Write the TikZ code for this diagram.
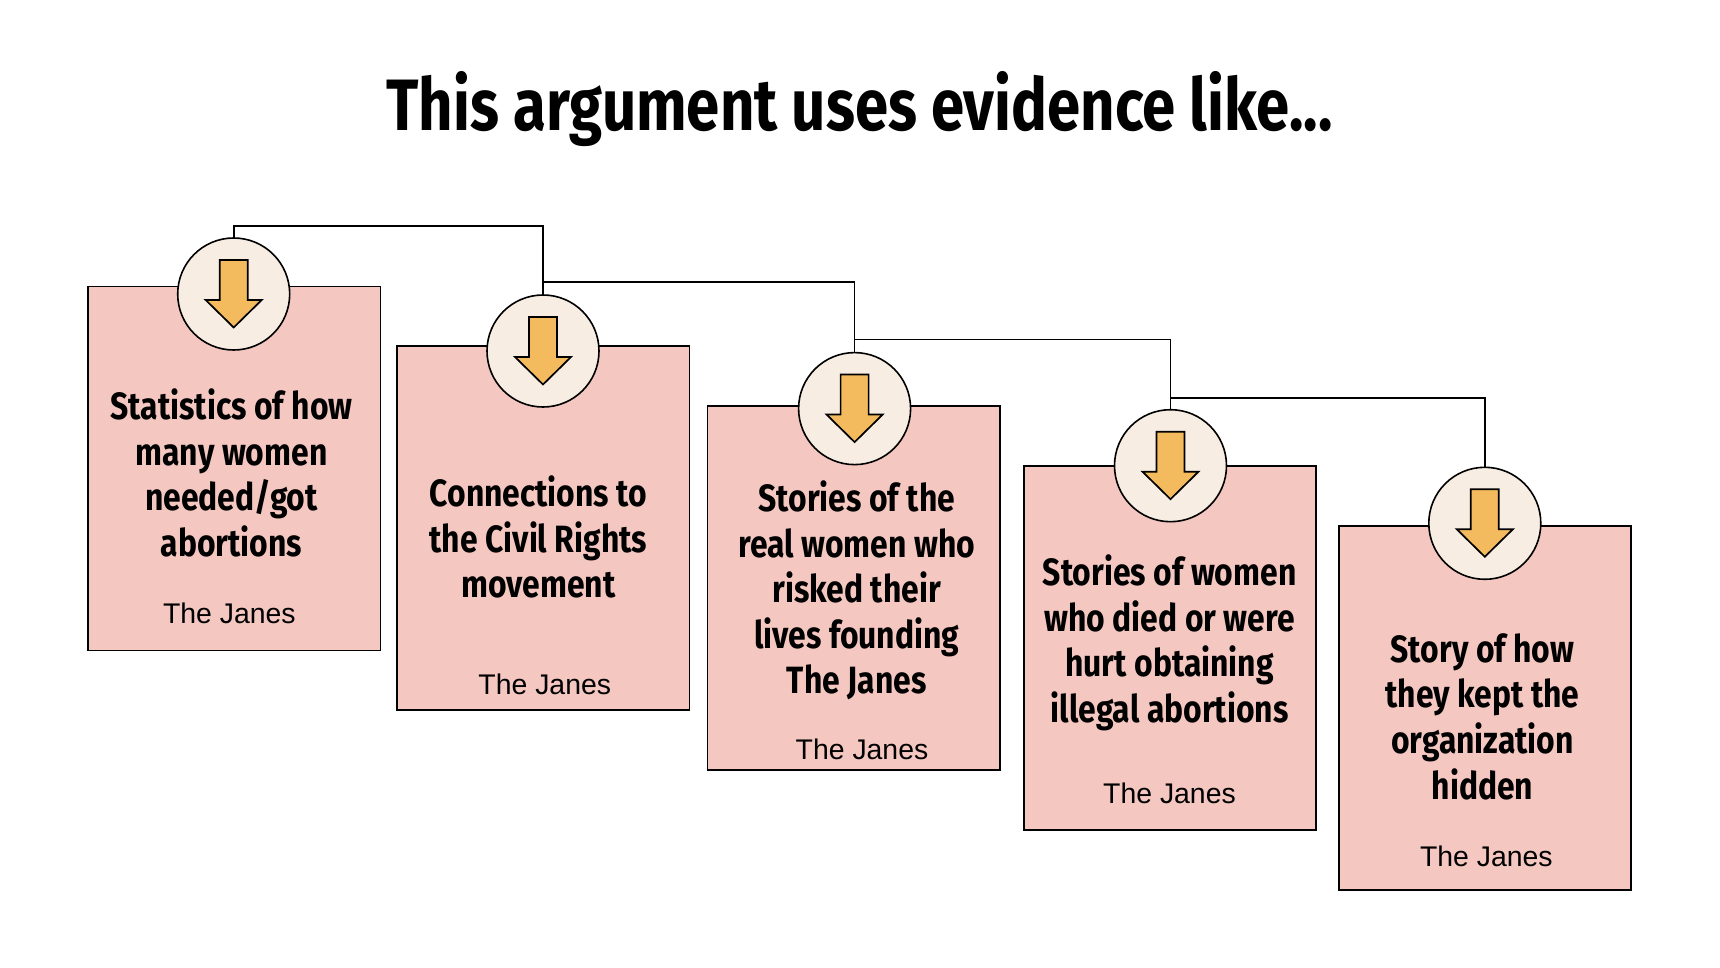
\documentclass[tikz,border=0pt]{standalone}
\usepackage{fontspec}
\setmainfont{Liberation Sans}
\newfontfamily\headfont[FakeStretch=0.838]{Fira Sans}[BoldFont={Fira Sans Bold}]
\newfontfamily\titlefont[FakeStretch=0.823]{Fira Sans}[BoldFont={Fira Sans Bold}]
\definecolor{boxpink}{HTML}{F4C7C1}
\definecolor{discream}{HTML}{F7EDE2}
\definecolor{arrowgold}{HTML}{F4BB5E}
\tikzset{
  x=0.5pt,y=-0.5pt,
  card/.style={draw=black,fill=boxpink,line width=0.85pt,minimum width=146.3pt,minimum height=182pt,inner sep=0pt,outer sep=0pt,anchor=north west},
  disc/.style={circle,draw=black,fill=discream,line width=0.8pt,minimum size=56pt,inner sep=0pt,outer sep=0pt},
  wire/.style={draw=black,line width=0.8pt},
  heading/.style={font=\headfont\bfseries\fontsize{19}{22.8}\selectfont,align=center,inner sep=0pt},
  source/.style={font=\fontsize{14.2}{17}\selectfont,inner sep=0pt},
  titletext/.style={font=\titlefont\bfseries\fontsize{36.4}{42}\selectfont,inner sep=0pt},
  downarrow/.pic={\draw[fill=arrowgold,line width=0.85pt,line join=miter]
     (-14,-34)--(14,-34)--(14,6)--(28,6)--(0,33.5)--(-28,6)--(-14,6)--cycle;}
}
\begin{document}
\begin{tikzpicture}
\useasboundingbox (0,0) rectangle (1720,968);
\fill[white] (0,0) rectangle (1720,968);
\node[titletext] (title) at (859.5,109) {This argument uses evidence like...};

\coordinate (j1) at (390,226);
\coordinate (j2) at (700,282);
\coordinate (j3) at (1020,339.5);
\coordinate (j4) at (1330,398);

\node[card] (b1) at (88,286.5) {};
\node[card] (b2) at (397,345.7) {};
\node[card] (b3) at (707.6,406) {};
\node[card] (b4) at (1023.7,466.2) {};
\node[card] (b5) at (1338.7,526.2) {};

\node[disc] (c1) at (233.7,294) {};
\node[disc] (c2) at (543,351) {};
\node[disc] (c3) at (854.6,408.6) {};
\node[disc] (c4) at (1170.5,465.7) {};
\node[disc] (c5) at (1484.8,523.3) {};

\draw[wire] (c1.north) |- (j1) -| (c2.north);
\draw[wire] (c2.north) |- (j2) -| (c3.north);
\draw[wire] (c3.north) |- (j3) -| (c4.north);
\draw[wire] (c4.north) |- (j4) -| (c5.north);

\pic at (c1) {downarrow};
\pic at (c2) {downarrow};
\pic at (c3) {downarrow};
\pic at (c4) {downarrow};
\pic at (c5) {downarrow};

\node[heading] (h1) at (231.5,473) {Statistics of how\\many women\\needed/got\\abortions};
\node[heading] (h2) at (538.4,537) {Connections to\\the Civil Rights\\movement};
\node[heading] (h3) at (856.7,590.5) {Stories of the\\real women who\\risked their\\lives founding\\The Janes};
\node[heading] (h4) at (1169.6,642.8) {Stories of women\\who died or were\\hurt obtaining\\illegal abortions};
\node[heading] (h5) at (1482.5,716.6) {Story of how\\they kept the\\organization\\hidden};

\node[source] (s1) at (229.4,613.7) {The Janes};
\node[source] (s2) at (544.8,684) {The Janes};
\node[source] (s3) at (862,749) {The Janes};
\node[source] (s4) at (1169.5,793) {The Janes};
\node[source] (s5) at (1486.3,856.4) {The Janes};
\end{tikzpicture}
\end{document}
